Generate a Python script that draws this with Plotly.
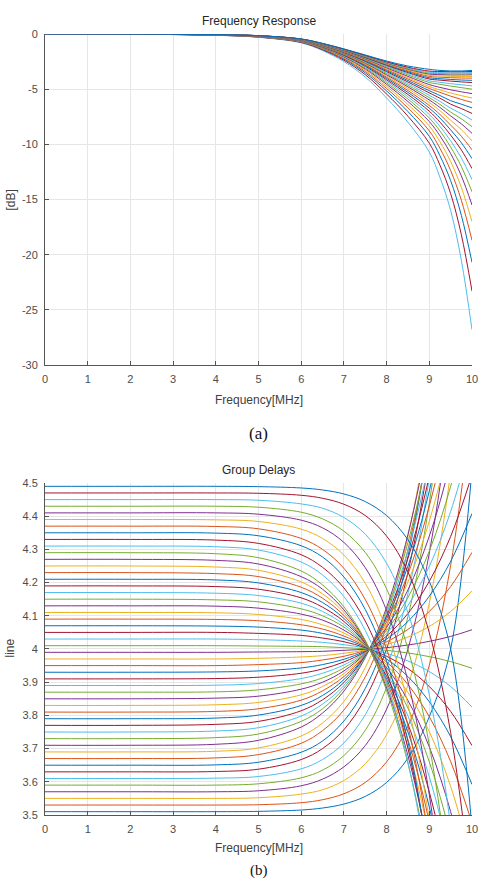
import plotly.graph_objects as go

# ---------------- data ----------------
FREQ_FR = [0, 2, 4, 5, 6, 6.5, 7, 7.5, 8, 8.5, 9, 9.25, 9.5, 9.75, 10]

# magnitude curves [dB], listed from the top curve (least attenuation) to the bottom curve
FR_CURVES = [
    [0, -0.01, -0.06, -0.15, -0.45, -0.85, -1.35, -1.9, -2.45, -2.9, -3.2, -3.3, -3.35, -3.35, -3.3],
    [0, -0.01, -0.061, -0.153, -0.458, -0.864, -1.375, -1.944, -2.523, -3.012, -3.364, -3.4, -3.42, -3.42, -3.4],
    [0, -0.01, -0.062, -0.155, -0.462, -0.873, -1.391, -1.971, -2.569, -3.081, -3.466, -3.5, -3.52, -3.52, -3.5],
    [0, -0.01, -0.063, -0.157, -0.467, -0.881, -1.404, -1.994, -2.608, -3.141, -3.554, -3.59, -3.61, -3.61, -3.6],
    [0, -0.011, -0.063, -0.159, -0.47, -0.888, -1.417, -2.016, -2.644, -3.195, -3.634, -3.68, -3.71, -3.71, -3.7],
    [0, -0.011, -0.064, -0.161, -0.475, -0.897, -1.433, -2.044, -2.692, -3.268, -3.742, -3.8, -3.84, -3.85, -3.85],
    [0, -0.011, -0.065, -0.163, -0.48, -0.906, -1.448, -2.071, -2.736, -3.336, -3.841, -3.91, -3.96, -3.99, -4.0],
    [0, -0.011, -0.066, -0.165, -0.486, -0.916, -1.467, -2.104, -2.792, -3.42, -3.965, -4.05, -4.12, -4.17, -4.2],
    [0, -0.011, -0.067, -0.168, -0.491, -0.926, -1.485, -2.135, -2.843, -3.498, -4.08, -4.18, -4.27, -4.34, -4.4],
    [0, -0.011, -0.068, -0.171, -0.499, -0.94, -1.51, -2.178, -2.915, -3.608, -4.242, -4.38, -4.5, -4.6, -4.7],
    [0, -0.012, -0.07, -0.174, -0.506, -0.953, -1.533, -2.218, -2.983, -3.711, -4.393, -4.56, -4.72, -4.86, -5.0],
    [0, -0.012, -0.071, -0.178, -0.515, -0.97, -1.562, -2.269, -3.068, -3.84, -4.583, -4.84, -5.06, -5.24, -5.4],
    [0, -0.012, -0.072, -0.181, -0.523, -0.985, -1.59, -2.317, -3.148, -3.962, -4.762, -5.07, -5.35, -5.59, -5.8],
    [0, -0.012, -0.074, -0.185, -0.531, -1.0, -1.616, -2.363, -3.225, -4.08, -4.935, -5.29, -5.63, -5.93, -6.2],
    [0, -0.013, -0.076, -0.189, -0.54, -1.018, -1.647, -2.417, -3.316, -4.218, -5.138, -5.576, -6.046, -6.36, -6.7],
    [0, -0.013, -0.077, -0.193, -0.55, -1.035, -1.677, -2.469, -3.403, -4.351, -5.334, -5.822, -6.357, -6.758, -7.2],
    [0, -0.013, -0.079, -0.197, -0.56, -1.054, -1.712, -2.529, -3.503, -4.503, -5.558, -6.107, -6.722, -7.224, -7.8],
    [0, -0.013, -0.081, -0.201, -0.57, -1.073, -1.745, -2.586, -3.599, -4.649, -5.773, -6.384, -7.077, -7.686, -8.4],
    [0, -0.014, -0.082, -0.206, -0.58, -1.091, -1.777, -2.642, -3.694, -4.793, -5.984, -6.654, -7.425, -8.147, -9.0],
    [0, -0.014, -0.084, -0.21, -0.591, -1.111, -1.812, -2.704, -3.797, -4.951, -6.216, -6.955, -7.817, -8.667, -9.7],
    [0, -0.014, -0.086, -0.216, -0.603, -1.134, -1.852, -2.774, -3.914, -5.128, -6.477, -7.295, -8.262, -9.263, -10.5],
    [0, -0.015, -0.088, -0.221, -0.615, -1.156, -1.891, -2.84, -4.025, -5.297, -6.725, -7.619, -8.692, -9.852, -11.3],
    [0, -0.015, -0.09, -0.226, -0.627, -1.179, -1.933, -2.913, -4.147, -5.484, -7.0, -7.984, -9.166, -10.507, -12.2],
    [0, -0.015, -0.093, -0.232, -0.641, -1.205, -1.978, -2.992, -4.279, -5.685, -7.296, -8.374, -9.688, -11.229, -13.2],
    [0, -0.016, -0.095, -0.238, -0.656, -1.232, -2.026, -3.076, -4.42, -5.899, -7.61, -8.79, -10.244, -12.012, -14.3],
    [0, -0.016, -0.098, -0.245, -0.671, -1.261, -2.077, -3.164, -4.567, -6.123, -7.94, -9.231, -10.834, -12.856, -15.5],
    [0, -0.017, -0.101, -0.253, -0.69, -1.295, -2.138, -3.271, -4.746, -6.395, -8.34, -9.77, -11.562, -13.897, -17.0],
    [0, -0.017, -0.105, -0.262, -0.71, -1.334, -2.205, -3.388, -4.942, -6.693, -8.779, -10.365, -12.372, -15.067, -18.7],
    [0, -0.018, -0.109, -0.271, -0.733, -1.376, -2.281, -3.52, -5.163, -7.03, -9.274, -11.038, -13.293, -16.428, -20.7],
    [0, -0.019, -0.114, -0.284, -0.763, -1.431, -2.377, -3.686, -5.442, -7.455, -9.899, -11.894, -14.469, -18.185, -23.3],
    [0, -0.02, -0.12, -0.3, -0.8, -1.5, -2.5, -3.9, -5.8, -8.0, -10.7, -13.0, -16.0, -20.5, -26.8],
]

FREQ_GD = [0, 2, 4, 5, 6, 6.5, 7, 7.5, 8, 8.5, 9, 9.5, 10]

# group delay curves, listed from the bottom line (3.51) to the top line (4.49)
GD_CURVES = [
    [3.51, 3.51, 3.51, 3.511, 3.515, 3.521, 3.533, 3.556, 3.598, 3.671, 3.796, 4.0, 4.539],
    [3.53, 3.53, 3.53, 3.531, 3.537, 3.546, 3.564, 3.598, 3.66, 3.768, 3.951, 4.252, 4.737],
    [3.55, 3.55, 3.55, 3.552, 3.563, 3.576, 3.604, 3.654, 3.742, 3.891, 4.138, 4.533, 5.15],
    [3.57, 3.57, 3.57, 3.573, 3.588, 3.608, 3.645, 3.709, 3.819, 4.0, 4.289, 4.74, 5.428],
    [3.59, 3.59, 3.59, 3.594, 3.612, 3.635, 3.679, 3.755, 3.884, 4.098, 4.439, 4.973, 5.783],
    [3.61, 3.61, 3.611, 3.616, 3.639, 3.667, 3.717, 3.802, 3.943, 4.167, 4.516, 5.045, 5.829],
    [3.63, 3.63, 3.631, 3.638, 3.667, 3.7, 3.757, 3.851, 4.0, 4.231, 4.579, 5.093, 5.835],
    [3.65, 3.65, 3.651, 3.659, 3.689, 3.723, 3.783, 3.881, 4.037, 4.279, 4.643, 5.179, 5.956],
    [3.67, 3.67, 3.672, 3.682, 3.716, 3.754, 3.816, 3.916, 4.069, 4.299, 4.635, 5.119, 5.798],
    [3.69, 3.69, 3.692, 3.702, 3.738, 3.777, 3.842, 3.944, 4.103, 4.34, 4.689, 5.187, 5.891],
    [3.71, 3.71, 3.713, 3.725, 3.765, 3.807, 3.873, 3.974, 4.125, 4.345, 4.657, 5.093, 5.69],
    [3.73, 3.73, 3.733, 3.744, 3.782, 3.82, 3.882, 3.976, 4.117, 4.321, 4.612, 5.017, 5.573],
    [3.75, 3.75, 3.753, 3.763, 3.798, 3.834, 3.89, 3.978, 4.108, 4.297, 4.567, 4.942, 5.456],
    [3.77, 3.77, 3.773, 3.782, 3.814, 3.847, 3.899, 3.98, 4.099, 4.273, 4.521, 4.867, 5.34],
    [3.79, 3.79, 3.792, 3.801, 3.83, 3.86, 3.908, 3.981, 4.091, 4.25, 4.476, 4.791, 5.223],
    [3.81, 3.81, 3.812, 3.82, 3.846, 3.874, 3.917, 3.983, 4.082, 4.226, 4.431, 4.716, 5.107],
    [3.83, 3.83, 3.832, 3.839, 3.862, 3.887, 3.926, 3.985, 4.073, 4.202, 4.385, 4.641, 4.99],
    [3.85, 3.85, 3.852, 3.858, 3.879, 3.9, 3.934, 3.987, 4.065, 4.178, 4.34, 4.565, 4.874],
    [3.87, 3.87, 3.871, 3.877, 3.895, 3.913, 3.943, 3.988, 4.056, 4.155, 4.295, 4.49, 4.757],
    [3.89, 3.89, 3.891, 3.896, 3.911, 3.927, 3.952, 3.99, 4.047, 4.131, 4.249, 4.414, 4.641],
    [3.91, 3.91, 3.911, 3.915, 3.927, 3.94, 3.961, 3.992, 4.039, 4.107, 4.204, 4.339, 4.524],
    [3.93, 3.93, 3.931, 3.934, 3.943, 3.953, 3.969, 3.994, 4.03, 4.083, 4.159, 4.264, 4.408],
    [3.95, 3.95, 3.95, 3.953, 3.959, 3.967, 3.978, 3.996, 4.022, 4.059, 4.113, 4.188, 4.291],
    [3.97, 3.97, 3.97, 3.972, 3.976, 3.98, 3.987, 3.997, 4.013, 4.036, 4.068, 4.113, 4.175],
    [3.99, 3.99, 3.99, 3.991, 3.992, 3.993, 3.996, 3.999, 4.004, 4.012, 4.023, 4.038, 4.058],
    [4.01, 4.01, 4.01, 4.009, 4.008, 4.007, 4.004, 4.001, 3.996, 3.988, 3.977, 3.962, 3.942],
    [4.03, 4.03, 4.03, 4.028, 4.024, 4.02, 4.013, 4.003, 3.987, 3.964, 3.932, 3.887, 3.825],
    [4.05, 4.05, 4.05, 4.047, 4.041, 4.033, 4.022, 4.004, 3.978, 3.941, 3.887, 3.812, 3.709],
    [4.07, 4.07, 4.069, 4.066, 4.057, 4.047, 4.031, 4.006, 3.97, 3.917, 3.841, 3.736, 3.592],
    [4.09, 4.09, 4.089, 4.085, 4.073, 4.06, 4.039, 4.008, 3.961, 3.893, 3.796, 3.661, 3.476],
    [4.11, 4.11, 4.109, 4.104, 4.089, 4.073, 4.048, 4.01, 3.953, 3.869, 3.751, 3.586, 3.359],
    [4.13, 4.13, 4.129, 4.123, 4.105, 4.087, 4.057, 4.012, 3.944, 3.845, 3.705, 3.51, 3.243],
    [4.15, 4.15, 4.148, 4.142, 4.121, 4.1, 4.066, 4.013, 3.935, 3.822, 3.66, 3.435, 3.126],
    [4.17, 4.17, 4.168, 4.161, 4.138, 4.113, 4.074, 4.015, 3.927, 3.798, 3.615, 3.359, 3.01],
    [4.19, 4.19, 4.188, 4.18, 4.154, 4.126, 4.083, 4.017, 3.918, 3.774, 3.569, 3.284, 2.893],
    [4.21, 4.21, 4.208, 4.199, 4.17, 4.14, 4.092, 4.019, 3.909, 3.75, 3.524, 3.209, 2.777],
    [4.23, 4.23, 4.227, 4.218, 4.186, 4.153, 4.101, 4.02, 3.901, 3.727, 3.479, 3.133, 2.66],
    [4.25, 4.25, 4.247, 4.237, 4.202, 4.166, 4.11, 4.022, 3.892, 3.703, 3.433, 3.058, 2.544],
    [4.27, 4.27, 4.267, 4.256, 4.218, 4.18, 4.118, 4.024, 3.883, 3.679, 3.388, 2.983, 2.427],
    [4.29, 4.29, 4.287, 4.275, 4.235, 4.193, 4.127, 4.026, 3.875, 3.655, 3.343, 2.907, 2.31],
    [4.31, 4.31, 4.308, 4.298, 4.262, 4.223, 4.158, 4.056, 3.897, 3.66, 3.311, 2.813, 2.109],
    [4.33, 4.33, 4.328, 4.318, 4.284, 4.246, 4.184, 4.084, 3.931, 3.701, 3.365, 2.881, 2.202],
    [4.35, 4.35, 4.349, 4.341, 4.311, 4.277, 4.217, 4.119, 3.963, 3.721, 3.357, 2.821, 2.044],
    [4.37, 4.37, 4.369, 4.362, 4.333, 4.3, 4.243, 4.149, 4.0, 3.769, 3.421, 2.907, 2.165],
    [4.39, 4.39, 4.389, 4.384, 4.361, 4.333, 4.283, 4.198, 4.057, 3.833, 3.484, 2.955, 2.171],
    [4.41, 4.41, 4.41, 4.406, 4.388, 4.365, 4.321, 4.245, 4.116, 3.902, 3.561, 3.027, 2.217],
    [4.43, 4.43, 4.43, 4.427, 4.412, 4.392, 4.355, 4.291, 4.181, 4.0, 3.711, 3.26, 2.572],
    [4.45, 4.45, 4.45, 4.448, 4.437, 4.424, 4.396, 4.346, 4.258, 4.109, 3.862, 3.467, 2.85],
    [4.47, 4.47, 4.47, 4.469, 4.463, 4.454, 4.436, 4.402, 4.34, 4.232, 4.049, 3.748, 3.263],
    [4.49, 4.49, 4.49, 4.489, 4.485, 4.479, 4.467, 4.444, 4.402, 4.329, 4.204, 4.0, 3.461],
]

X_TICKS = [0, 1, 2, 3, 4, 5, 6, 7, 8, 9, 10]
FR_TICKS = [0, -5, -10, -15, -20, -25, -30]
FR_TICK_TEXT = ["0", "-5", "-10", "-15", "-20", "-25", "-30"]
GD_TICKS = [3.5, 3.6, 3.7, 3.8, 3.9, 4.0, 4.1, 4.2, 4.3, 4.4, 4.5]
GD_TICK_TEXT = ["3.5", "3.6", "3.7", "3.8", "3.9", "4", "4.1", "4.2", "4.3", "4.4", "4.5"]

COLORS = ["#0072BD", "#D95319", "#EDB120", "#7E2F8E", "#77AC30", "#4DBEEE", "#A2142F"]

# ---------------- figure ----------------
fig = go.Figure()

for j, row in enumerate(reversed(FR_CURVES)):
    fig.add_trace(go.Scatter(
        x=FREQ_FR, y=row, mode="lines", xaxis="x", yaxis="y",
        line=dict(color=COLORS[(5 + j) % 7], width=1, shape="spline", smoothing=1.0),
        hoverinfo="skip", showlegend=False))

for j, row in enumerate(GD_CURVES):
    fig.add_trace(go.Scatter(
        x=FREQ_GD, y=row, mode="lines", xaxis="x2", yaxis="y2",
        line=dict(color=COLORS[j % 7], width=1, shape="spline", smoothing=1.0),
        hoverinfo="skip", showlegend=False))

FONT = "Liberation Sans, Arial, sans-serif"
tickfont = dict(family=FONT, size=11, color="#4d4d4d")
axis_common = dict(showline=True, linecolor="#555555", linewidth=1, mirror=False,
                   ticks="inside", ticklen=4, tickcolor="#555555",
                   showgrid=True, gridcolor="#e6e6e6", gridwidth=1,
                   zeroline=False, tickfont=tickfont, fixedrange=True,
                   ticklabelstandoff=4)

fig.update_layout(
    width=487, height=880,
    margin=dict(l=45, r=9, t=34, b=65, pad=0),
    paper_bgcolor="white", plot_bgcolor="white",
    showlegend=False,
    xaxis=dict(domain=[0, 1], range=[0, 10], anchor="y", tickvals=X_TICKS, **axis_common),
    yaxis=dict(domain=[0.5762, 1], range=[-30, 0], anchor="x", tickvals=FR_TICKS,
               ticktext=FR_TICK_TEXT, **axis_common),
    xaxis2=dict(domain=[0, 1], range=[0, 10], anchor="y2", tickvals=X_TICKS, **axis_common),
    yaxis2=dict(domain=[0, 0.4251], range=[3.5, 4.5], anchor="x2", tickvals=GD_TICKS,
                ticktext=GD_TICK_TEXT, **axis_common),
)

def ann(text, x, y, size=12, family=FONT, color="#262626", angle=0):
    fig.add_annotation(text=text, x=x, y=y, xref="paper", yref="paper",
                       xanchor="center", yanchor="middle", showarrow=False,
                       textangle=angle, font=dict(family=family, size=size, color=color))

SERIF = "Liberation Serif, Times New Roman, serif"
ann("Frequency Response", 0.5, 1.0166, size=12)
ann("Frequency[MHz]", 0.5, 0.5314, size=12, color="#404040")
ann("(a)", 0.5, 0.4891, size=17, family=SERIF, color="#111111")
ann("[dB]", -0.0808, 0.7875, size=12, color="#404040", angle=-90)
ann("Group Delays", 0.5, 0.4417, size=12)
ann("line", -0.0808, 0.2138, size=12, color="#404040", angle=-90)
ann("Frequency[MHz]", 0.5, -0.0423, size=12, color="#404040")
ann("(b)", 0.5, -0.0717, size=15, family=SERIF, color="#111111")

fig.write_html("out.html")
